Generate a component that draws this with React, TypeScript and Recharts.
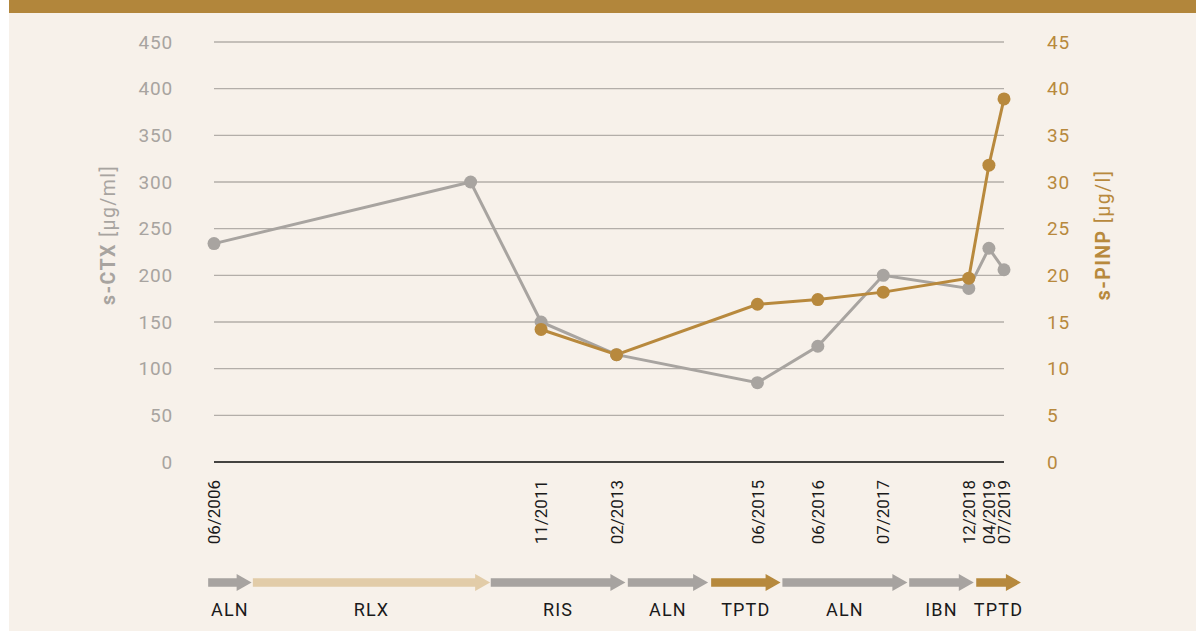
import React from 'react';
import { ComposedChart, Line, XAxis, YAxis, CartesianGrid, ReferenceArea } from 'recharts';

// sample dates (MM/YYYY) and measured values
const sampleDates = ['06/2006', '09/2010', '11/2011', '02/2013', '06/2015', '06/2016', '07/2017', '12/2018', '04/2019', '07/2019'];
const ctxValues = [234, 300, 150, 115, 85, 124, 200, 186, 229, 206];
const pinpValues: (number | null)[] = [null, null, 14.2, 11.5, 16.9, 17.4, 18.2, 19.7, 31.8, 38.9];

// only these dates get a label on the x axis
const tickDates = ['06/2006', '11/2011', '02/2013', '06/2015', '06/2016', '07/2017', '12/2018', '04/2019', '07/2019'];
const ctxTicks = [0, 50, 100, 150, 200, 250, 300, 350, 400, 450];
const pinpTicks = [0, 5, 10, 15, 20, 25, 30, 35, 40, 45];

// therapy timeline (decimal years)
const therapyNames = ['ALN', 'RLX', 'RIS', 'ALN', 'TPTD', 'ALN', 'IBN', 'TPTD'];
const therapyStart = [2006.32, 2007.06, 2011.0, 2013.27, 2014.65, 2015.83, 2017.93, 2019.04];
const therapyEnd = [2007.04, 2010.99, 2013.23, 2014.6, 2015.8, 2017.9, 2019.0, 2019.78];
const therapyKind = ['bis', 'rlx', 'bis', 'bis', 'tptd', 'bis', 'bis', 'tptd'];

const GRAY = '#a8a4a0';
const GOLD = '#b8893d';
const kindColor: Record<string, string> = { bis: '#a7a3a0', rlx: '#e2cca8', tptd: '#b6893d' };
const FONT = 'Roboto, "Noto Sans", sans-serif';

const toYear = (s: string) => {
  const [m, y] = s.split('/').map(Number);
  return y + (m - 1) / 12;
};

const tickTimes = tickDates.map(toYear);

const data = sampleDates.map((d, i) => ({
  t: toYear(d),
  ctx: ctxValues[i],
  pinp: pinpValues[i],
}));

const DateTick = (props: any) => {
  const { x, y, payload } = props;
  const idx = tickTimes.findIndex((t) => Math.abs(t - payload.value) < 1e-6);
  const ty = y + 10;
  return (
    <text
      x={x}
      y={ty}
      transform={`rotate(-90 ${x} ${ty})`}
      textAnchor="end"
      dy="0.36em"
      fontSize={17}
      fill="#1a1a1a"
      fontFamily={FONT}
    >
      {idx >= 0 ? tickDates[idx] : ''}
    </text>
  );
};

const TherapyArrow = (props: any) => {
  const { x, y, width, height, name, color } = props;
  const head = 15;
  const cy = y + height / 2;
  const half = height / 4;
  const xe = x + width;
  const pts = [
    [x, cy - half],
    [xe - head, cy - half],
    [xe - head, y],
    [xe, cy],
    [xe - head, y + height],
    [xe - head, cy + half],
    [x, cy + half],
  ]
    .map((p) => p.join(','))
    .join(' ');
  return (
    <g>
      <polygon points={pts} fill={color} />
      <text
        x={x + width / 2}
        y={y + height + 25}
        textAnchor="middle"
        fontSize={18}
        letterSpacing={1.2}
        fill="#1a1a1a"
        fontFamily={FONT}
      >
        {name}
      </text>
    </g>
  );
};

const App: React.FC = () => {
  return (
    <div
      style={{
        position: 'absolute',
        left: 9,
        top: 0,
        width: 1187,
        height: 631,
        background: '#f7f1ea',
        fontFamily: FONT,
        overflow: 'hidden',
      }}
    >
      <div style={{ position: 'absolute', left: 0, top: 0, width: '100%', height: 13, background: '#b2863b' }} />
      <ComposedChart width={1187} height={631} data={data} margin={{ top: 42, right: 0, bottom: 69, left: 0 }}>
        <CartesianGrid yAxisId="ctx" vertical={false} stroke="#b3aea9" strokeWidth={1.3} />
        <XAxis
          dataKey="t"
          type="number"
          domain={[toYear('06/2006'), toYear('07/2019')]}
          ticks={tickTimes}
          interval={0}
          tickLine={false}
          axisLine={{ stroke: '#1a1a1a', strokeWidth: 1.5 }}
          tick={<DateTick />}
          height={100}
        />
        <YAxis
          yAxisId="ctx"
          domain={[0, 450]}
          ticks={ctxTicks}
          width={205}
          axisLine={false}
          tickLine={false}
          tickMargin={35}
          tick={{ fill: GRAY, fontSize: 19, fontFamily: FONT, letterSpacing: 0.8 }}
        />
        <YAxis
          yAxisId="pinp"
          orientation="right"
          domain={[0, 45]}
          ticks={pinpTicks}
          width={192}
          axisLine={false}
          tickLine={false}
          tickMargin={37}
          tick={{ fill: GOLD, fontSize: 19, fontFamily: FONT, textAnchor: 'start', letterSpacing: 0.8 }}
        />
        {therapyNames.map((name, i) => (
          <ReferenceArea
            key={i}
            yAxisId="ctx"
            x1={therapyStart[i]}
            x2={therapyEnd[i]}
            y1={-138.2}
            y2={-120}
            ifOverflow="visible"
            shape={(p: any) => <TherapyArrow {...p} name={name} color={kindColor[therapyKind[i]]} />}
          />
        ))}
        <Line
          yAxisId="ctx"
          dataKey="ctx"
          type="linear"
          stroke={GRAY}
          strokeWidth={3}
          dot={{ r: 6.5, fill: GRAY, stroke: 'none' }}
          activeDot={false}
          isAnimationActive={false}
        />
        <Line
          yAxisId="pinp"
          dataKey="pinp"
          type="linear"
          stroke={GOLD}
          strokeWidth={3}
          dot={{ r: 6.5, fill: GOLD, stroke: 'none' }}
          activeDot={false}
          isAnimationActive={false}
        />
      </ComposedChart>
      <div
        style={{
          position: 'absolute',
          left: 99,
          top: 235,
          transform: 'translate(-50%, -50%) rotate(-90deg)',
          whiteSpace: 'nowrap',
          color: GRAY,
          fontSize: 19.5,
          letterSpacing: 1.4,
        }}
      >
        <b>s-CTX</b> [µg/ml]
      </div>
      <div
        style={{
          position: 'absolute',
          left: 1094,
          top: 235,
          transform: 'translate(-50%, -50%) rotate(-90deg)',
          whiteSpace: 'nowrap',
          color: GOLD,
          fontSize: 19.5,
          letterSpacing: 1.4,
        }}
      >
        <b>s-PINP</b> [µg/l]
      </div>
    </div>
  );
};

export default App;
